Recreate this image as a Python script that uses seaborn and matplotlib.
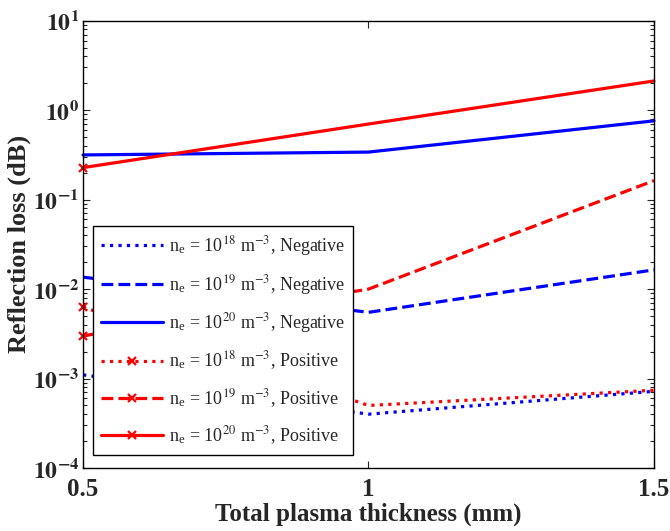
import matplotlib
matplotlib.use("Agg")
import matplotlib.pyplot as plt
import matplotlib.ticker as mticker
import seaborn as sns
import numpy as np

# data (x = total plasma thickness in mm)
thickness = [0.5, 1.0, 1.5]
neg_18 = [0.0011, 0.00040, 0.00072]
neg_19 = [0.0136, 0.0055, 0.0164]
neg_20 = [0.316, 0.34, 0.76]
pos_18 = [0.0063, 0.00050, 0.00074]
pos_19 = [0.0030, 0.0100, 0.163]
pos_20 = [0.228, 0.70, 2.12]
exponents = ["18", "19", "20"]
kinds = ["Negative", "Positive"]
x_ticks = [0.5, 1, 1.5]
x_ticklabels = ["0.5", "1", "1.5"]

sns.set_style("ticks")
plt.rcParams["font.family"] = ["Liberation Serif", "DejaVu Serif"]
plt.rcParams["mathtext.fontset"] = "stix"
plt.rcParams["xtick.direction"] = "in"
plt.rcParams["ytick.direction"] = "in"

fig = plt.figure(figsize=(6.7, 5.31), dpi=100)
ax = fig.add_axes([0.124, 0.1186, 0.852, 0.8424])

series = [neg_18, neg_19, neg_20, pos_18, pos_19, pos_20]
styles = [":", "--", "-"]
for i, vals in enumerate(series):
    kind = kinds[i // 3]
    exp = exponents[i % 3]
    color = "#0000ff" if kind == "Negative" else "#ff0000"
    label = r"n$_\mathregular{e}$ = 10$^{%s}$ m$^{-3}$, %s" % (exp, kind)
    kw = dict(color=color, linestyle=styles[i % 3], linewidth=2.3, clip_on=False)
    if kind == "Positive":
        kw.update(marker="x", markevery=[0], markersize=6,
                  markeredgecolor=color, markeredgewidth=1.6)
    sns.lineplot(x=thickness, y=vals, ax=ax, label=label, legend=False, **kw)

ax.set_yscale("log")
ax.set_xlim(0.5, 1.5)
ax.set_ylim(1e-4, 1e1)

ax.yaxis.set_major_locator(mticker.LogLocator(base=10, numticks=10))
ax.yaxis.set_minor_locator(mticker.LogLocator(base=10, subs=np.arange(2, 10), numticks=20))
ax.yaxis.set_minor_formatter(mticker.NullFormatter())
ax.yaxis.set_major_formatter(mticker.FuncFormatter(
    lambda v, p: r"$\mathbf{10^{%d}}$" % int(round(np.log10(v)))))
ax.set_xticks(x_ticks)
ax.set_xticklabels(x_ticklabels, fontweight="bold")

ax.tick_params(which="both", top=True, right=True, width=0.8)
ax.tick_params(axis="y", labelsize=17, pad=3)
ax.tick_params(axis="x", labelsize=18, pad=7)
ax.tick_params(which="major", length=5)
ax.tick_params(which="minor", length=3)
for s in ax.spines.values():
    s.set_linewidth(1.0)
    s.set_color("black")

ax.set_xlabel("Total plasma thickness (mm)", fontsize=18, fontweight="bold", labelpad=1)
ax.set_ylabel("Reflection loss (dB)", fontsize=19, fontweight="bold", labelpad=1)

lines = ax.get_lines()
leg = ax.legend(lines, [l.get_label() for l in lines], loc="lower left",
                bbox_to_anchor=(0.0175, 0.029), borderaxespad=0, fontsize=13,
                handlelength=3.4, handletextpad=0.35, labelspacing=0.8,
                borderpad=0.45, fancybox=False, framealpha=1, edgecolor="black")
leg.get_frame().set_linewidth(1.0)

fig.savefig("out.png", dpi=100)
